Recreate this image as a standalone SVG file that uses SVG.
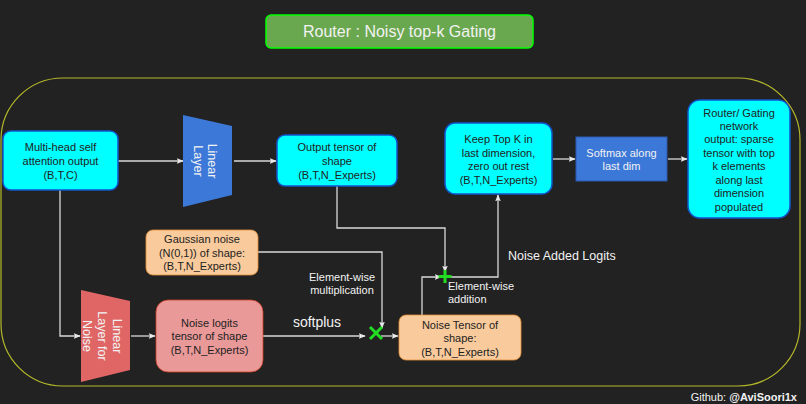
<svg xmlns="http://www.w3.org/2000/svg" width="806" height="404" viewBox="0 0 806 404">
<defs>
<marker id="ah" viewBox="0 0 10 10" refX="9" refY="5" markerWidth="7" markerHeight="7" markerUnits="userSpaceOnUse" orient="auto"><path d="M0,1 L10,5 L0,9 L2,5 Z" fill="#e8e8e8"/></marker>
</defs>
<style>
text{font-family:"Liberation Sans",Arial,sans-serif;font-size:11px;text-anchor:middle}
.cy{fill:#00ffff;stroke:#1155cc;stroke-width:1.5}
.or{fill:#f9cb9c;stroke:#e69138;stroke-width:0.8}
.dk{fill:#222}
.wt{fill:#f2f2f2}
.c{fill:none;stroke:#d9d9d9;stroke-width:1.3;marker-end:url(#ah)}
</style>
<rect width="806" height="404" fill="#222222"/>
<g id="title">
<rect x="266" y="15" width="267" height="33" rx="5" fill="#6aa84f" stroke="#00ff00" stroke-width="1.5"/>
<text x="399.5" y="37" class="wt" style="font-size:16px">Router : Noisy top-k Gating</text>
</g>
<rect x="1" y="78" width="799" height="308" rx="62" fill="none" stroke="#b5b82a" stroke-width="1.2"/>
<g id="connectors">
<path class="c" d="M118,161 H183"/>
<path class="c" d="M234,161 H276"/>
<path class="c" d="M553,159 H575"/>
<path class="c" d="M668,159 H687"/>
<path class="c" d="M337,186 V228 H445 V272"/>
<path class="c" d="M445,277 H498 V195"/>
<path class="c" d="M422,315 V277 H441"/>
<path class="c" d="M60,190 V336 H80"/>
<path class="c" d="M131,336 H155"/>
<path class="c" d="M263,336 H365"/>
<path class="c" d="M258,252 H382 V328"/>
<path class="c" d="M381,336 H398"/>
</g>
<g id="ops">
<path d="M370,327 L382,339 M382,327 L370,339" stroke="#22dd22" stroke-width="3"/>
<path d="M445,270 V283 M438.5,276.5 H451.5" stroke="#22dd22" stroke-width="3"/>
</g>
<g id="multihead">
<rect x="3" y="131" width="115" height="59" rx="8" class="cy"/>
<text x="60.5" y="151" class="dk">Multi-head self</text>
<text x="60.5" y="165" class="dk">attention output</text>
<text x="60.5" y="179" class="dk">(B,T,C)</text>
</g>
<g id="linear">
<path d="M183,115 L232,126 V195 L183,207 Z" fill="#3c78d8"/>
<text transform="translate(208,161) rotate(90)" class="wt" style="font-size:12.5px"><tspan x="0" y="0">Linear</tspan><tspan x="0" y="14">Layer</tspan></text>
</g>
<g id="outtensor">
<rect x="277" y="135" width="120" height="51" rx="8" class="cy"/>
<text x="337" y="151" class="dk">Output tensor of</text>
<text x="337" y="165" class="dk">shape</text>
<text x="337" y="179" class="dk">(B,T,N_Experts)</text>
</g>
<g id="topk">
<rect x="445" y="123" width="107" height="71" rx="10" class="cy"/>
<text x="498.5" y="143" class="dk">Keep Top K in</text>
<text x="498.5" y="157" class="dk">last dimension,</text>
<text x="498.5" y="170" class="dk">zero out rest</text>
<text x="498.5" y="184" class="dk">(B,T,N_Experts)</text>
</g>
<g id="softmax">
<rect x="576" y="137" width="91" height="44" fill="#3c78d8" stroke="#2a5ab0" stroke-width="1"/>
<text x="621.5" y="157" class="wt">Softmax along</text>
<text x="621.5" y="170" class="wt">last dim</text>
</g>
<g id="router">
<rect x="688" y="100" width="102" height="118" rx="12" class="cy"/>
<text x="739" y="117" class="dk">Router/ Gating</text>
<text x="739" y="130" class="dk">network</text>
<text x="739" y="143" class="dk">output: sparse</text>
<text x="739" y="157" class="dk">tensor with top</text>
<text x="739" y="170" class="dk">k elements</text>
<text x="739" y="184" class="dk">along last</text>
<text x="739" y="197" class="dk">dimension</text>
<text x="739" y="211" class="dk">populated</text>
</g>
<g id="gaussian">
<rect x="146" y="230" width="112" height="45" rx="7" class="or"/>
<text x="202" y="243" class="dk">Gaussian noise</text>
<text x="202" y="257" class="dk">(N(0,1)) of shape:</text>
<text x="202" y="270" class="dk">(B,T,N_Experts)</text>
</g>
<g id="noiselinear">
<path d="M81,290 L130,301 V370 L81,382 Z" fill="#e06666"/>
<text transform="translate(105,336) rotate(90)" class="wt" style="font-size:12.5px"><tspan x="0" y="-8">Linear</tspan><tspan x="0" y="7">Layer for</tspan><tspan x="0" y="22">Noise</tspan></text>
</g>
<g id="noiselogits">
<rect x="156" y="300" width="107" height="72" rx="12" fill="#ea9999" stroke="#cc4125" stroke-width="0.8"/>
<text x="209.5" y="327" class="dk">Noise logits</text>
<text x="209.5" y="340" class="dk">tensor of shape</text>
<text x="209.5" y="354" class="dk">(B,T,N_Experts)</text>
</g>
<g id="noisetensor">
<rect x="399" y="315" width="122" height="45" rx="7" class="or"/>
<text x="460" y="329" class="dk">Noise Tensor of</text>
<text x="460" y="342" class="dk">shape:</text>
<text x="460" y="356" class="dk">(B,T,N_Experts)</text>
</g>
<g id="labels">
<text x="317" y="327" class="wt" style="font-size:14px">softplus</text>
<text x="342" y="281" class="wt">Element-wise</text>
<text x="342" y="294" class="wt">multiplication</text>
<text x="448" y="290" class="wt" style="text-anchor:start">Element-wise</text>
<text x="448" y="303" class="wt" style="text-anchor:start">addition</text>
<text x="508" y="260" class="wt" style="text-anchor:start;font-size:12.5px">Noise Added Logits</text>
<text x="797" y="401" class="wt" style="text-anchor:end">Github: <tspan font-weight="bold">@AviSoori1x</tspan></text>
</g>
</svg>
